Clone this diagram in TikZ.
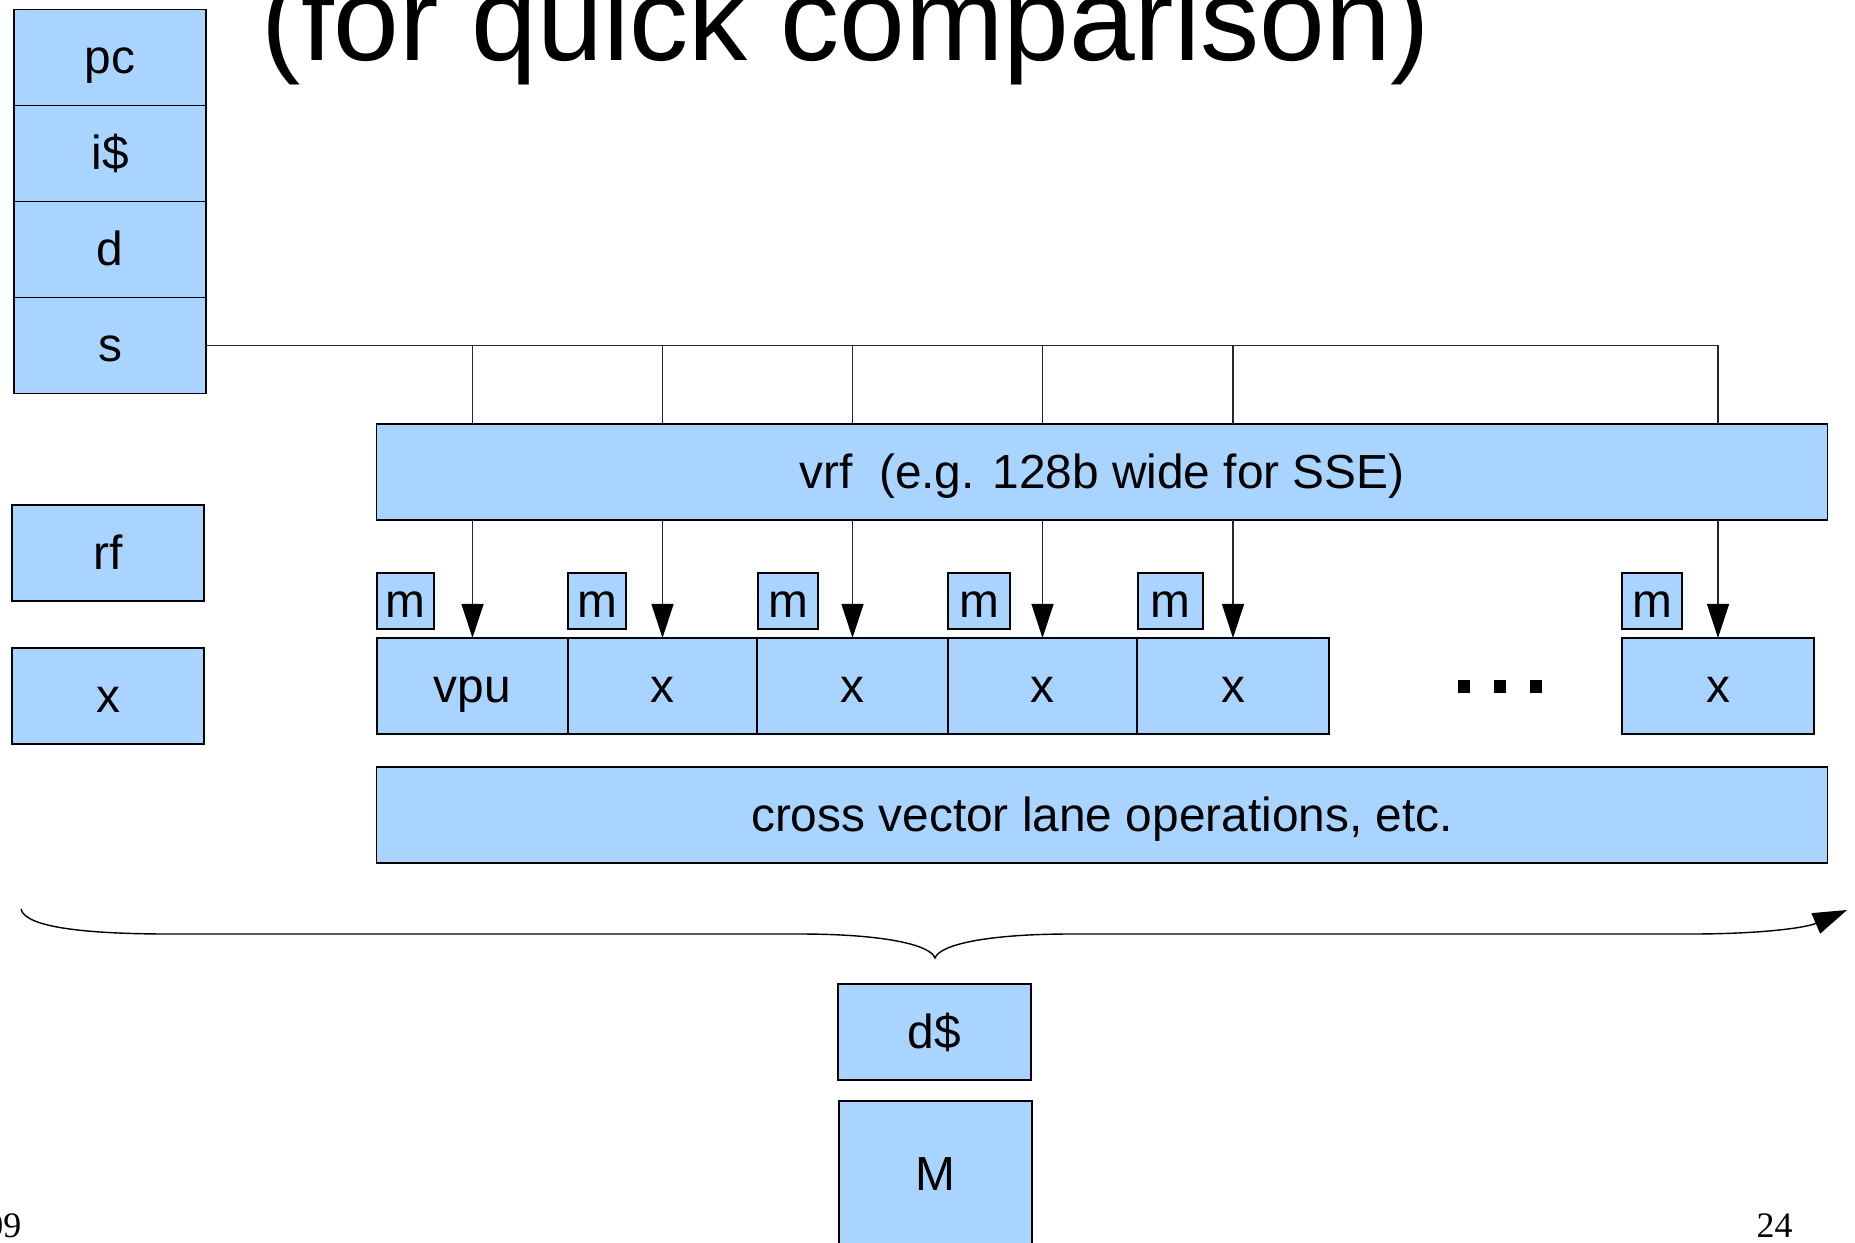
\documentclass[tikz,border=0pt]{standalone}
\usepackage{fontspec}
\setmainfont{Liberation Sans}
\newfontfamily\footerfont{Liberation Serif}
\usetikzlibrary{arrows.meta}
\definecolor{unitblue}{HTML}{A8D4FF}
% \placeblock{name}{x1}{y1}{x2}{y2}{label}: a filled box between two corners (units of 0.1 mm)
\newcommand\placeblock[6]{%
  \pgfmathsetmacro\blkW{((#4)-(#2))/100}%
  \pgfmathsetmacro\blkH{((#5)-(#3))/100}%
  \pgfmathsetmacro\blkX{((#2)+(#4))/2}%
  \pgfmathsetmacro\blkY{((#3)+(#5))/2}%
  \node[blockbox, minimum width=\blkW cm, minimum height=\blkH cm] (#1) at (\blkX,\blkY) {#6};}
\begin{document}
\begin{tikzpicture}[x=0.01cm, y=-0.01cm,
  blockbox/.style={draw=black, line width=0.4pt, fill=unitblue, inner sep=0pt, outer sep=0pt,
    font=\fontsize{13.6}{16}\selectfont, text height=4.34mm, text depth=1.02mm},
  wire/.style={draw=black!85, line width=0.35pt},
  lanearrow/.style={-{Triangle[length=3.4mm, width=2.2mm, fill=black, color=black]}}]
\useasboundingbox (0,0) rectangle (1855,1242);
\fill[white] (0,0) rectangle (1855,1242);
\clip (0,0) rectangle (1855,1242);

% heading (runs off the top edge)
\node[anchor=base west, inner sep=0pt, font=\fontsize{33.6}{40}\selectfont] (title) at (261,60) {(for quick comparison)};

% scalar pipeline stack
\placeblock{pc}{14}{9.3}{206}{105.3}{pc}
\placeblock{icache}{14}{105.3}{206}{201.3}{i\$}
\placeblock{d}{14}{201.3}{206}{297.3}{d}
\placeblock{s}{14}{297.3}{206}{393.3}{s}
\placeblock{rf}{12}{505}{204}{601}{rf}
\placeblock{xs}{12}{648}{204}{744}{x}

% vector register file
\placeblock{vrf}{377}{424}{1827}{520}{vrf\ \ (e.g. 128b wide for SSE)}

% vector lanes
\placeblock{vpu}{377}{638}{568}{734}{vpu}
\placeblock{x2}{568}{638}{757}{734}{x}
\placeblock{x3}{757}{638}{948}{734}{x}
\placeblock{x4}{948}{638}{1137}{734}{x}
\placeblock{x5}{1137}{638}{1329}{734}{x}
\placeblock{x6}{1622}{638}{1814}{734}{x}

% mask boxes
\placeblock{m1}{377}{573}{434}{629}{m}
\placeblock{m2}{568}{573}{626}{629}{m}
\placeblock{m3}{758}{573}{818}{629}{m}
\placeblock{m4}{948}{573}{1010}{629}{m}
\placeblock{m5}{1138}{573}{1203}{629}{m}
\placeblock{m6}{1622}{573}{1682}{629}{m}

% ellipsis between lanes
\foreach \dx in {1457.5,1493.5,1530}
  \fill[black] (\dx,680) rectangle +(12,13);

\placeblock{cross}{377}{767}{1827}{863}{cross vector lane operations, etc.}

% memory side
\placeblock{dcache}{838}{984}{1031}{1080}{d\$}
\placeblock{mem}{839}{1101}{1032}{1247}{M}

% issue bus from s to the register file
\draw[wire] (s.east) -- (s.east -| x6.north) -- (x6.north |- vrf.north);
\foreach \l in {vpu,x2,x3,x4,x5}
  \draw[wire] (s.east -| \l.north) -- (\l.north |- vrf.north);

% register file feeding each lane
\foreach \l in {vpu,x2,x3,x4,x5,x6}
  \draw[wire, lanearrow] (\l.north |- vrf.south) -- (\l.north);

% brace gathering all lanes toward the data cache
\coordinate (braceL) at (21,909);
\coordinate (braceTip) at (935,958);
\coordinate (braceR) at (1847,910);
\draw[wire, draw=black, line width=0.4pt, lanearrow] (braceL)
  .. controls (25,928) and (90,934) .. (170,934) -- (800,934)
  .. controls (880,934) and (930,944) .. (braceTip)
  .. controls (940,944) and (990,934) .. (1070,934) -- (1690,934)
  .. controls (1760,934) and (1805,928) .. (braceR);

% footer
\node[anchor=base east, inner sep=0pt, font=\footerfont\fontsize{10.2}{12}\selectfont] (datefoot) at (22,1237) {09};
\node[anchor=base west, inner sep=0pt, font=\footerfont\fontsize{10.2}{12}\selectfont] (pagenum) at (1756,1237) {24};
\end{tikzpicture}
\end{document}
